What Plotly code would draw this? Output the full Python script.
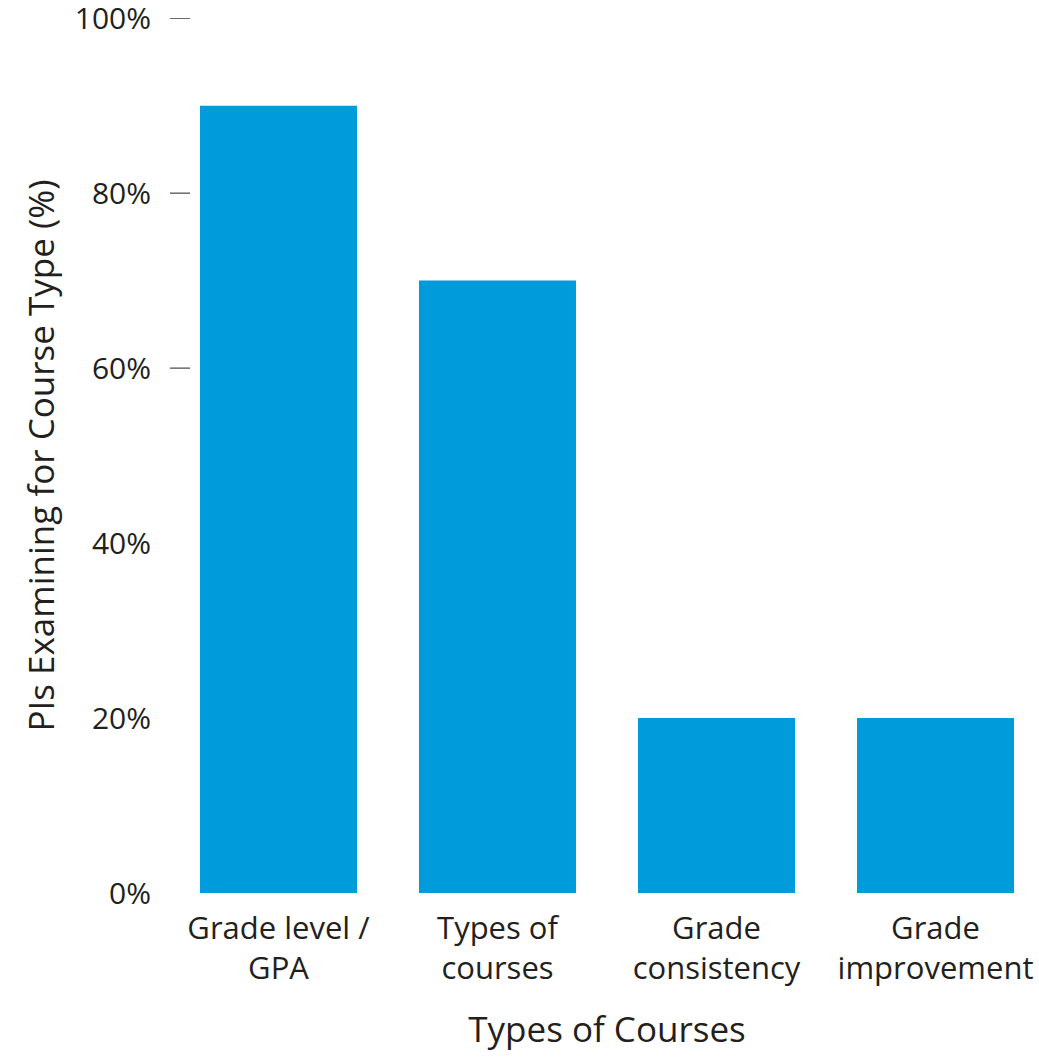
import plotly.graph_objects as go

categories = ["Grade level /<br>GPA", "Types of<br>courses", "Grade<br>consistency", "Grade<br>improvement"]
values = [90, 70, 20, 20]
y_tick_vals = [0, 20, 40, 60, 80, 100]
y_tick_text = ["0%", "20%", "40%", "60%", "80%", "100%"]
visible_tick_vals = [60, 80, 100]

FONT = "Open Sans"
TXT = "#231f20"
BAR = "#009BDA"

fig = go.Figure()
fig.add_trace(go.Bar(x=list(range(len(categories))), y=values, marker=dict(color=BAR, line=dict(width=0)),
                     hoverinfo="skip"))

for v in visible_tick_vals:
    fig.add_shape(type="line", xref="paper", yref="y", x0=-0.024, x1=0, y0=v, y1=v,
                  line=dict(color="#231f20", width=1))

fig.update_layout(
    width=1039, height=1057,
    margin=dict(l=190, r=15, t=18, b=164),
    plot_bgcolor="white", paper_bgcolor="white",
    bargap=0.283, showlegend=False,
    font=dict(family=FONT, color=TXT),
    xaxis=dict(
        range=[-0.404, 3.404], tickmode="array", tickvals=list(range(len(categories))),
        ticktext=categories, showgrid=False, zeroline=False, showline=False, ticks="",
        tickfont=dict(size=31, family=FONT, color=TXT), ticklabelstandoff=14, automargin=False,
        title=dict(text="Types of Courses", font=dict(size=35, family=FONT, color=TXT), standoff=30),
    ),
    yaxis=dict(
        range=[0, 100.02], tickmode="array", tickvals=y_tick_vals, ticktext=y_tick_text,
        showgrid=False, zeroline=False, showline=False, ticks="outside", ticklen=20,
        tickcolor="rgba(0,0,0,0)", ticklabelstandoff=12, ticklabeloverflow="allow", automargin=False,
        tickfont=dict(size=30, family=FONT, color=TXT),
        title=dict(text="PIs Examining for Course Type (%)", font=dict(size=35, family=FONT, color=TXT), standoff=9),
    ),
)

fig.write_html("out.html")
